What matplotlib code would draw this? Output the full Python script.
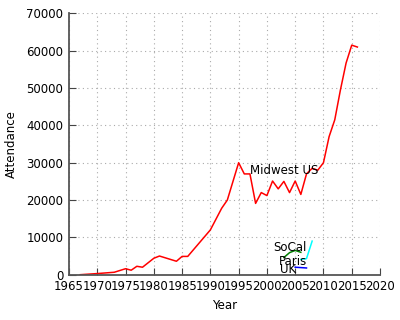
import matplotlib
matplotlib.use("Agg")
import matplotlib.pyplot as plt

# Midwest US attendance
mw_years = [1967, 1970, 1973, 1975, 1976, 1977, 1978, 1980, 1981, 1984, 1985, 1986,
            1990, 1992, 1993, 1995, 1996, 1997, 1998, 1999, 2000, 2001, 2002, 2003,
            2004, 2005, 2006, 2007, 2008, 2009, 2010, 2011, 2012, 2013, 2014, 2015, 2016]
mw_vals = [0, 300, 650, 1600, 1200, 2250, 2000, 4400, 5000, 3600, 4900, 4900,
           12000, 17800, 20000, 30000, 27000, 27000, 19100, 22000, 21200, 25100, 23000, 25000,
           22000, 25100, 21500, 27000, 28500, 28000, 30000, 37000, 41500, 49500, 56700, 61500, 61000]

socal_years = [2003, 2004, 2005, 2006]
socal_vals = [4600, 5900, 6500, 6000]

paris_years = [2006, 2007, 2008]
paris_vals = [4100, 4300, 9000]

uk_years = [2005, 2006, 2007]
uk_vals = [2000, 1900, 1800]

plt.rcParams['font.family'] = 'DejaVu Sans'
fig = plt.figure(figsize=(4, 3.2), dpi=100)
ax = fig.add_axes([0.1725, 0.1416, 0.7775, 0.8164])

ax.plot(mw_years, mw_vals, color='red', lw=1.1)
ax.plot(socal_years, socal_vals, color='green', lw=1.1)
ax.plot(paris_years, paris_vals, color='cyan', lw=1.1)
ax.plot(uk_years, uk_vals, color='blue', lw=1.1)

ax.text(2003, 28000, 'Midwest US', ha='center', va='center', fontsize=8.5)
ax.text(2004, 7400, 'SoCal', ha='center', va='center', fontsize=8.5)
ax.text(2004.7, 3500, 'Paris', ha='center', va='center', fontsize=8.5)
ax.text(2003.7, 1300, 'UK', ha='center', va='center', fontsize=8.5)

ax.set_xlim(1965, 2020)
ax.set_ylim(0, 70000)
ax.set_xticks(range(1965, 2021, 5))
ax.set_yticks(range(0, 70001, 10000))
ax.tick_params(direction='in', length=5, labelsize=8.5, color='#444444', pad=4)
ax.grid(True, linestyle=(0, (1, 3)), color='#aaaaaa', lw=0.8)
for s in ['top', 'right']:
    ax.spines[s].set_visible(False)
for s in ['left', 'bottom']:
    ax.spines[s].set_color('#555555')
    ax.spines[s].set_linewidth(1.3)

ax.set_xlabel('Year', fontsize=8.5)
ax.set_ylabel('Attendance', fontsize=8.5, labelpad=6)

fig.savefig('out.png', dpi=100)
